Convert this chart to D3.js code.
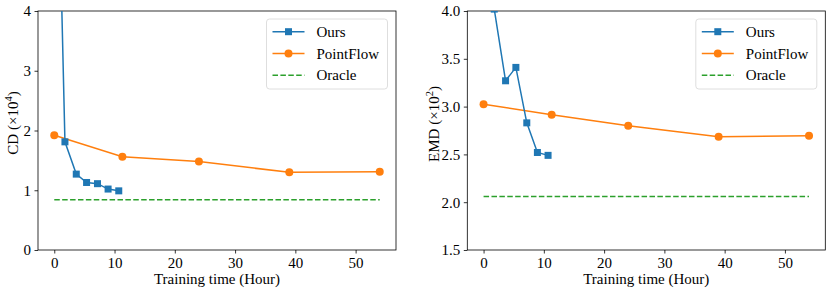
<!DOCTYPE html>
<html>
<head>
<meta charset="utf-8">
<script src="https://cdn.jsdelivr.net/npm/d3@7"></script>
<style>
  body { margin: 0; background: #fff; }
  svg text { font-family: "Liberation Serif", "DejaVu Serif", serif; fill: #000; }
</style>
</head>
<body>
<svg id="chart" width="831" height="290"></svg>
<script>
// Data
var oursTime = [0, 1.77, 3.65, 5.36, 7.17, 8.93, 10.7];
var oursCD = [9.4, 1.81, 1.27, 1.13, 1.11, 1.02, 0.99];
var oursEMD = [6.5, 4.02, 3.27, 3.41, 2.83, 2.52, 2.49];

var flowTime = [0, 11.3, 24.0, 39.0, 54.0];
var flowCD = [1.92, 1.56, 1.48, 1.30, 1.31];
var flowEMD = [3.025, 2.915, 2.80, 2.685, 2.695];

var oracleTime = [0, 54];
var oracleCD = 0.84;
var oracleEMD = 2.06;

var xTicks = [0, 10, 20, 30, 40, 50];
var cdTicks = [0, 1, 2, 3, 4];
var emdTicks = [1.5, 2.0, 2.5, 3.0, 3.5, 4.0];
var legendNames = ["Ours", "PointFlow", "Oracle"];

var colors = { ours: "#1f77b4", flow: "#ff7f0e", oracle: "#2ca02c" };
var fontSize = "15px";

var svg = d3.select("#chart");

function drawPanel(opts) {
  var g = svg.append("g");
  var x = d3.scaleLinear().domain([-2.7, 56.7]).range([opts.left, opts.left + 358]);
  var y = d3.scaleLinear().domain(opts.yDomain).range([250, 11]);

  var clipId = "clip" + opts.id;
  svg.append("clipPath").attr("id", clipId)
    .append("rect")
    .attr("x", opts.left).attr("y", 11)
    .attr("width", 358).attr("height", 239);

  // axes
  var xAxis = g.append("g")
    .attr("transform", "translate(0,250)")
    .call(d3.axisBottom(x).tickValues(xTicks).tickSize(3.5).tickPadding(3.5));
  var yAxis = g.append("g")
    .attr("transform", "translate(" + opts.left + ",0)")
    .call(d3.axisLeft(y).tickValues(opts.yTicks).tickSize(3.5).tickPadding(3.5)
      .tickFormat(opts.fmt));
  [xAxis, yAxis].forEach(function(a) {
    a.select(".domain").remove();
    a.selectAll("text").style("font-size", fontSize).attr("fill", "#000");
    a.selectAll("line").attr("stroke", "#000").attr("stroke-width", 0.8);
  });

  // spines
  g.append("rect")
    .attr("x", opts.left).attr("y", 11)
    .attr("width", 358).attr("height", 239)
    .attr("fill", "none").attr("stroke", "#000").attr("stroke-width", 0.8);

  var plot = g.append("g").attr("clip-path", "url(#" + clipId + ")");
  var line = d3.line().x(function(d) { return x(d[0]); }).y(function(d) { return y(d[1]); });

  // oracle
  plot.append("path")
    .datum(oracleTime.map(function(t) { return [t, opts.oracle]; }))
    .attr("d", line)
    .attr("fill", "none").attr("stroke", colors.oracle)
    .attr("stroke-width", 1.5).attr("stroke-dasharray", "5.5,2.4");

  // pointflow
  var flowPts = flowTime.map(function(t, i) { return [t, opts.flow[i]]; });
  plot.append("path").datum(flowPts).attr("d", line)
    .attr("fill", "none").attr("stroke", colors.flow).attr("stroke-width", 1.5);
  plot.selectAll(".flowpt").data(flowPts).enter().append("circle")
    .attr("cx", function(d) { return x(d[0]); })
    .attr("cy", function(d) { return y(d[1]); })
    .attr("r", 4).attr("fill", colors.flow);

  // ours
  var oursPts = oursTime.map(function(t, i) { return [t, opts.ours[i]]; });
  plot.append("path").datum(oursPts).attr("d", line)
    .attr("fill", "none").attr("stroke", colors.ours).attr("stroke-width", 1.5);
  plot.selectAll(".ourspt").data(oursPts).enter().append("rect")
    .attr("x", function(d) { return x(d[0]) - 3.5; })
    .attr("y", function(d) { return y(d[1]) - 3.5; })
    .attr("width", 7).attr("height", 7).attr("fill", colors.ours);

  // axis labels
  g.append("text")
    .attr("x", opts.left + 179).attr("y", 284)
    .attr("text-anchor", "middle").style("font-size", fontSize)
    .text("Training time (Hour)");

  var yl = g.append("text")
    .attr("transform", "translate(" + opts.ylabelX + "," + opts.ylabelY + ") rotate(-90)")
    .attr("text-anchor", "middle").style("font-size", fontSize);
  yl.append("tspan").text(opts.ylabel + " (\u00d710");
  yl.append("tspan").attr("dy", -6).style("font-size", "10.5px").text(opts.exp);
  yl.append("tspan").attr("dy", 6).text(")");

  // legend
  var lx = opts.left + 228.5, ly = 19;
  g.append("rect")
    .attr("x", lx).attr("y", ly).attr("width", 121).attr("height", 70)
    .attr("rx", 3).attr("fill", "#fff").attr("fill-opacity", 0.8)
    .attr("stroke", "#d6d6d6").attr("stroke-width", 0.8);
  var rows = [
    { name: legendNames[0], color: colors.ours, marker: "square" },
    { name: legendNames[1], color: colors.flow, marker: "circle" },
    { name: legendNames[2], color: colors.oracle, marker: "none" }
  ];
  rows.forEach(function(r, i) {
    var ry = ly + 12.7 + i * 21.8;
    var ln = g.append("line")
      .attr("x1", lx + 6).attr("x2", lx + 38)
      .attr("y1", ry).attr("y2", ry)
      .attr("stroke", r.color).attr("stroke-width", 1.5);
    if (r.marker === "none") ln.attr("stroke-dasharray", "5.5,2.4");
    if (r.marker === "square") {
      g.append("rect").attr("x", lx + 22 - 3.5).attr("y", ry - 3.5)
        .attr("width", 7).attr("height", 7).attr("fill", r.color);
    }
    if (r.marker === "circle") {
      g.append("circle").attr("cx", lx + 22).attr("cy", ry).attr("r", 4).attr("fill", r.color);
    }
    g.append("text")
      .attr("x", lx + 50).attr("y", ry + 5)
      .style("font-size", fontSize).text(r.name);
  });
}

drawPanel({
  id: "cd", left: 38, yDomain: [0, 4], yTicks: cdTicks,
  fmt: d3.format("d"),
  ours: oursCD, flow: flowCD, oracle: oracleCD,
  ylabel: "CD", exp: "4", ylabelX: 18, ylabelY: 123
});

drawPanel({
  id: "emd", left: 467.3, yDomain: [1.5, 4.0], yTicks: emdTicks,
  fmt: d3.format(".1f"),
  ours: oursEMD, flow: flowEMD, oracle: oracleEMD,
  ylabel: "EMD", exp: "2", ylabelX: 439, ylabelY: 124
});
</script>
</body>
</html>
